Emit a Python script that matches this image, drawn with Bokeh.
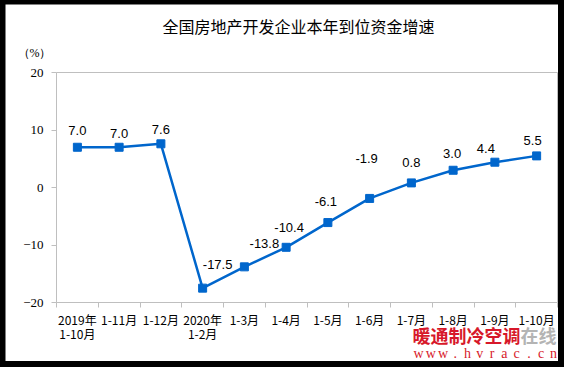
from bokeh.plotting import figure
from bokeh.models import (Range1d, FixedTicker, Label, ColumnDataSource, LinearAxis,
                          GlobalInlineStyleSheet)
from bokeh.core.properties import value
from bokeh.embed import file_html
from bokeh.resources import INLINE

# ---- data ----
categories = ["2019年\n1-10月", "1-11月", "1-12月", "2020年\n1-2月", "1-3月", "1-4月",
              "1-5月", "1-6月", "1-7月", "1-8月", "1-9月", "1-10月"]
growth = [7.0, 7.0, 7.6, -17.5, -13.8, -10.4, -6.1, -1.9, 0.8, 3.0, 4.4, 5.5]
y_ticks = [-20, -10, 0, 10, 20]
title_text = "全国房地产开发企业本年到位资金增速"
unit_text = "（%）"
wm_red = "暖通制冷空调"
wm_gray = "在线"
wm_url = "www.hvrac.cn"

# label offsets (screen px) — layout only
lab_dx = [0, 0, 0, 15, 20, 3, -2, -3, 0, -1, -9, -4]
lab_dy = [-17, -14, -14, -24, -23, -20, -21, -40, -20, -17, -14, -15]

n = len(categories)
xs = [i + 0.5 for i in range(n)]
ymin, ymax = y_ticks[0], y_ticks[-1]

# layout geometry (px)
W, H = 553, 357
PL, PT = 51, 68          # plot area left / top inside canvas
PW, PH = 501, 230        # plot area size
cw = PW / n              # px per category
py = PH / (ymax - ymin)  # px per unit

x0 = -PL / cw
x1 = (W - PL) / cw
y1 = ymax + PT / py
y0 = ymin - (H - PT - PH) / py

LINE = "#0066CC"
GRAY = "#BFBFBF"
RED = "#D7182A"

p = figure(width=W, height=H, output_backend="svg", toolbar_location=None,
           x_range=Range1d(x0, x1), y_range=Range1d(y0, y1),
           min_border=0, min_border_left=0, min_border_right=0,
           min_border_top=0, min_border_bottom=0,
           background_fill_color="white", border_fill_color="white",
           outline_line_color=None)
p.xgrid.visible = False
p.ygrid.visible = False

# x axis (fixed at bottom of plot area)
xa = p.xaxis[0]
xa.fixed_location = ymin
xa.bounds = (0, n)
xa.ticker = FixedTicker(ticks=xs, minor_ticks=list(range(0, n + 1)))
xa.major_label_overrides = {x: c for x, c in zip(xs, categories)}
xa.axis_line_color = GRAY
xa.major_tick_line_color = None
xa.major_tick_out = 0
xa.major_tick_in = 0
xa.minor_tick_line_color = GRAY
xa.minor_tick_out = 5
xa.minor_tick_in = 0
xa.major_label_text_font = "Noto Sans CJK SC"
xa.major_label_text_font_size = "12px"
xa.major_label_text_color = "black"
xa.major_label_text_line_height = 0.85
xa.major_label_standoff = 3

# y axis (fixed at left of plot area)
ya = p.yaxis[0]
ya.fixed_location = 0
ya.bounds = (ymin, ymax)
ya.ticker = FixedTicker(ticks=y_ticks)
ya.axis_line_color = GRAY
ya.major_tick_line_color = GRAY
ya.major_tick_out = 5
ya.major_tick_in = 0
ya.minor_tick_line_color = None
ya.major_label_text_font = "Liberation Serif"
ya.major_label_text_font_size = "13px"
ya.major_label_text_color = "black"
ya.major_label_standoff = 8

# top and right border lines of plot area
def border_axis(loc, bounds, side):
    ax = LinearAxis(fixed_location=loc, bounds=bounds, ticker=FixedTicker(ticks=[]),
                    axis_line_color=GRAY, major_tick_line_color=None,
                    minor_tick_line_color=None, major_label_text_font_size="0px")
    p.add_layout(ax, side)

border_axis(ymax, (0, n), "above")
border_axis(n, (ymin, ymax), "right")

src = ColumnDataSource(dict(x=xs, y=growth, lab=[f"{v:.1f}" for v in growth],
                            dx=lab_dx, dy=lab_dy))
p.line("x", "y", source=src, line_color=LINE, line_width=2.5)
p.scatter("x", "y", source=src, marker="square", size=8, fill_color=LINE, line_color=LINE)
p.text("x", "y", text="lab", source=src, x_offset="dx", y_offset="dy",
       text_align="center", text_baseline="middle",
       text_font=value("Liberation Sans"), text_font_size="13px", text_color="black")

def lab(px, pyy, text, font, size, color, style="normal", align="center"):
    # px, pyy: page pixel position -> data coordinates
    cx = px - 5 - PL
    cy = pyy - 4 - PT
    p.add_layout(Label(x=cx / cw, y=ymax - cy / py,
                       text=text, text_align=align, text_baseline="middle",
                       text_font=font, text_font_size=size, text_font_style=style,
                       text_color=color))

lab(298, 25.5, title_text, "Noto Sans CJK SC", "16px", "black")
lab(34, 52, unit_text, "Liberation Serif", "12px", "black")
lab(412, 334.5, wm_red, "Noto Sans CJK SC", "18px", RED, "bold", "left")
lab(520, 334.5, wm_gray, "Noto Sans CJK SC", "18px", "#B4B4B4", "bold", "left")
for i, ch in enumerate(wm_url):
    lab(418 + i * 12.27, 352.5, ch, "Liberation Serif", "14px", RED)

p.stylesheets = [GlobalInlineStyleSheet(
    css="html,body{margin:0;background:#000;} body{padding:4px 0 0 5px;}")]

open("out.html", "w").write(file_html(p, INLINE))
